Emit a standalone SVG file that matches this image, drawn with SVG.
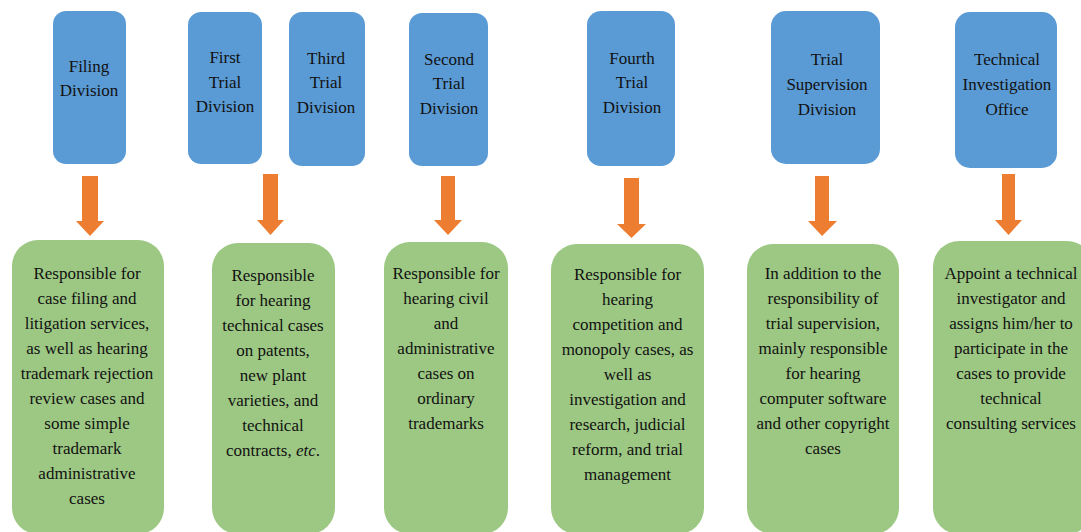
<svg xmlns="http://www.w3.org/2000/svg" width="1081" height="532" viewBox="0 0 1081 532">
<style>
.top{fill:#5B9BD5;}
.bot{fill:#9DC884;}
.arr{fill:#ED7D31;}
text{font-family:"Liberation Serif","Times New Roman",Times,Tinos,"Noto Serif","DejaVu Serif","Nimbus Roman","Nimbus Roman No9 L",FreeSerif,"Bitstream Charter",Georgia,serif;font-size:17px;fill:#111;text-anchor:middle;}
</style>
<rect width="1081" height="532" fill="#fff"/>
<g id="filing-division">
<rect class="top" x="53" y="11" width="73" height="153" rx="13"/>
<text x="89" y="72">Filing</text>
<text x="89" y="96">Division</text>
</g>
<g id="first-trial-division">
<rect class="top" x="188" y="12" width="74" height="152" rx="13"/>
<text x="225" y="63">First</text>
<text x="225" y="87.5">Trial</text>
<text x="225" y="112">Division</text>
</g>
<g id="third-trial-division">
<rect class="top" x="289" y="12" width="76" height="154" rx="13"/>
<text x="326" y="63.5">Third</text>
<text x="326" y="88">Trial</text>
<text x="326" y="112.5">Division</text>
</g>
<g id="second-trial-division">
<rect class="top" x="409" y="13" width="79" height="153" rx="13"/>
<text x="449" y="64.5">Second</text>
<text x="449" y="89">Trial</text>
<text x="449" y="113.5">Division</text>
</g>
<g id="fourth-trial-division">
<rect class="top" x="587" y="11" width="88" height="155" rx="14"/>
<text x="632" y="63.5">Fourth</text>
<text x="632" y="88">Trial</text>
<text x="632" y="112.5">Division</text>
</g>
<g id="trial-supervision-division">
<rect class="top" x="771" y="11" width="109" height="153" rx="15"/>
<text x="827" y="65">Trial</text>
<text x="827" y="90">Supervision</text>
<text x="827" y="114.5">Division</text>
</g>
<g id="technical-investigation-office">
<rect class="top" x="955" y="12" width="102" height="156" rx="15"/>
<text x="1007" y="65">Technical</text>
<text x="1007" y="89.5">Investigation</text>
<text x="1007" y="114.5">Office</text>
</g>
<g id="connectors">
<polygon class="arr" points="82,176 98,176 98,221 104,221 90,236 76,221 82,221"/>
<polygon class="arr" points="263,174 278,174 278,220 284,220 270.5,235 257,220 263,220"/>
<polygon class="arr" points="441,176 455,176 455,220 462,220 448,235 434,220 441,220"/>
<polygon class="arr" points="624,178 639,178 639,224 646,224 631.5,238 617,224 624,224"/>
<polygon class="arr" points="815,176 829,176 829,221 837,221 822,236 808,221 815,221"/>
<polygon class="arr" points="1002,174 1015,174 1015,220 1022,220 1008.5,235 995,220 1002,220"/>
</g>
<g id="filing-duties">
<rect class="bot" x="12" y="240" width="152" height="294" rx="26"/>
<text x="87" y="279">Responsible for</text>
<text x="87" y="304">case filing and</text>
<text x="87" y="329">litigation services,</text>
<text x="87" y="354">as well as hearing</text>
<text x="87" y="379">trademark rejection</text>
<text x="87" y="404">review cases and</text>
<text x="87" y="429">some simple</text>
<text x="87" y="454">trademark</text>
<text x="87" y="479">administrative</text>
<text x="87" y="504">cases</text>
</g>
<g id="first-third-duties">
<rect class="bot" x="212" y="243" width="123" height="291" rx="26"/>
<text x="273" y="281">Responsible</text>
<text x="273" y="306">for hearing</text>
<text x="273" y="331">technical cases</text>
<text x="273" y="356">on patents,</text>
<text x="273" y="381">new plant</text>
<text x="273" y="406">varieties, and</text>
<text x="273" y="431">technical</text>
<text x="273" y="456">contracts, <tspan font-style="italic">etc</tspan>.</text>
</g>
<g id="second-duties">
<rect class="bot" x="384" y="242" width="124" height="292" rx="26"/>
<text x="446" y="279">Responsible for</text>
<text x="446" y="304">hearing civil</text>
<text x="446" y="329">and</text>
<text x="446" y="354">administrative</text>
<text x="446" y="379">cases on</text>
<text x="446" y="404">ordinary</text>
<text x="446" y="429">trademarks</text>
</g>
<g id="fourth-duties">
<rect class="bot" x="551" y="244" width="153" height="290" rx="26"/>
<text x="627.5" y="280">Responsible for</text>
<text x="627.5" y="305">hearing</text>
<text x="627.5" y="330">competition and</text>
<text x="627.5" y="355">monopoly cases, as</text>
<text x="627.5" y="380">well as</text>
<text x="627.5" y="405">investigation and</text>
<text x="627.5" y="430">research, judicial</text>
<text x="627.5" y="455">reform, and trial</text>
<text x="627.5" y="480">management</text>
</g>
<g id="supervision-duties">
<rect class="bot" x="747" y="244" width="152" height="290" rx="26"/>
<text x="823" y="279">In addition to the</text>
<text x="823" y="304">responsibility of</text>
<text x="823" y="329">trial supervision,</text>
<text x="823" y="354">mainly responsible</text>
<text x="823" y="379">for hearing</text>
<text x="823" y="404">computer software</text>
<text x="823" y="429">and other copyright</text>
<text x="823" y="454">cases</text>
</g>
<g id="technical-duties">
<rect class="bot" x="933" y="241" width="160" height="293" rx="26"/>
<text x="1011" y="279">Appoint a technical</text>
<text x="1011" y="304">investigator and</text>
<text x="1011" y="329">assigns him/her to</text>
<text x="1011" y="354">participate in the</text>
<text x="1011" y="379">cases to provide</text>
<text x="1011" y="404">technical</text>
<text x="1011" y="429">consulting services</text>
</g>
</svg>
